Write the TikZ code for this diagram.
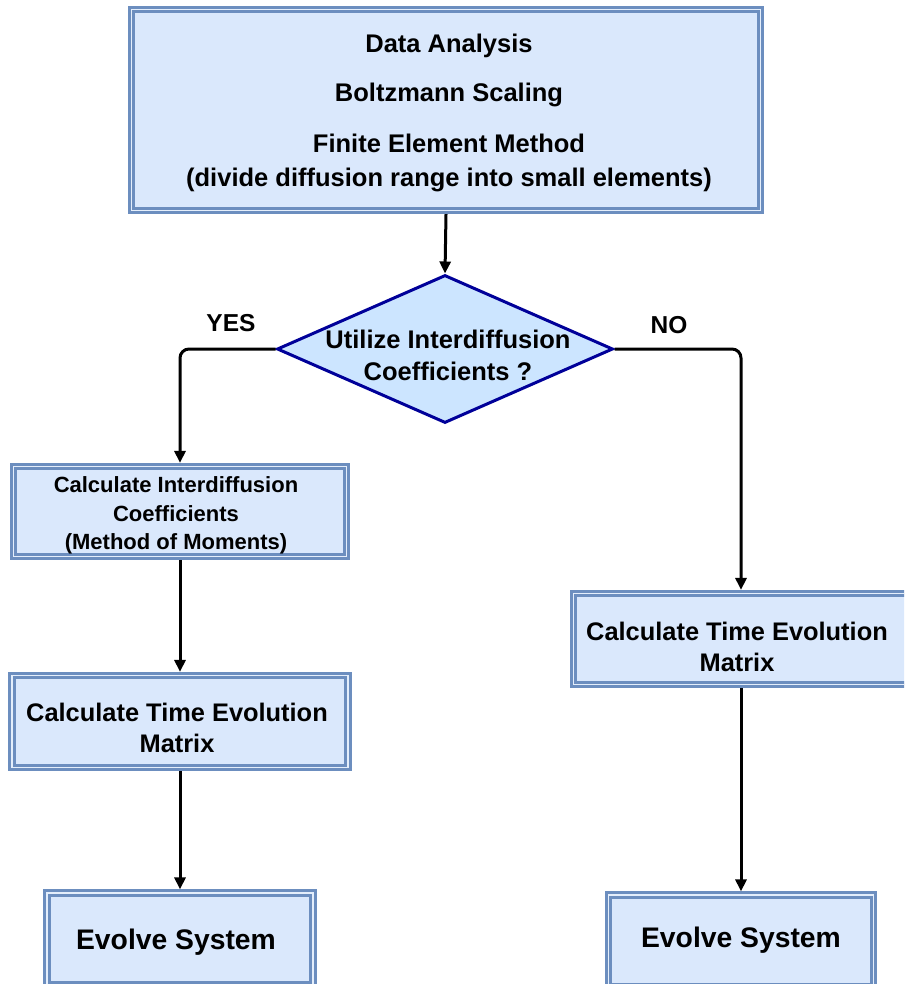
\documentclass[tikz,border=0pt]{standalone}
\usepackage{fontspec}
\setmainfont{Liberation Sans}
\usetikzlibrary{shapes.geometric,arrows.meta}
\definecolor{bord}{HTML}{6C8EBF}
\definecolor{boxfill}{HTML}{DAE8FC}
\definecolor{gapc}{HTML}{E4EEFB}
\definecolor{dfill}{HTML}{CCE5FF}
\definecolor{dbord}{HTML}{000099}
\newcommand\lowtxt[3][0pt]{\kern#1\kern#1\raisebox{-#2}[\height][\depth]{\begin{tabular}{@{}c@{}}#3\end{tabular}}}
\tikzset{
  dbox/.style={draw=bord, double=gapc, line width=3pt, double distance=1.2pt,
    fill=boxfill, align=center, inner sep=0pt, outer sep=3.6pt, font=\bfseries},
  dia/.style={diamond, draw=dbord, line width=3pt, fill=dfill, inner sep=0pt},
  arr/.style={line width=3pt, -{Triangle[width=11pt,length=12pt]}},
  lab/.style={font=\fontsize{24.5}{28}\selectfont\bfseries}
}
\begin{document}
\begin{tikzpicture}[x=1pt,y=-1pt]
\useasboundingbox (0,0) rectangle (904,984);
\fill[white] (0,0) rectangle (904,984);
\clip (0,0) rectangle (904,984);
\node[dbox, minimum width=629pt, minimum height=201pt,
  font=\fontsize{25.5}{34}\selectfont\bfseries] (top) at (446,110)
  {\lowtxt[3pt]{3pt}{Data Analysis\\[15pt]Boltzmann Scaling\\[17pt]Finite Element Method\\(divide diffusion range into small elements)}};
\node[dia, minimum width=336pt, minimum height=148pt,
  label={[font=\fontsize{25.5}{32}\selectfont\bfseries]center:\lowtxt[3pt]{9.5pt}{Utilize Interdiffusion\\Coefficients ?}}] (d) at (445,349) {};
\node[dbox, minimum width=333pt, minimum height=90pt,
  font=\fontsize{22}{28.5}\selectfont\bfseries] (b1) at (180,511.5)
  {\lowtxt[-4pt]{4pt}{Calculate Interdiffusion\\Coefficients\\(Method of Moments)}};
\node[dbox, minimum width=336pt, minimum height=92pt,
  font=\fontsize{25.4}{31}\selectfont\bfseries] (b2) at (180,721.5)
  {\lowtxt[-3pt]{9pt}{Calculate Time Evolution\\Matrix}};
\node[dbox, minimum width=266pt, minimum height=92pt,
  font=\fontsize{28.3}{31}\selectfont\bfseries] (b3) at (180,939)
  {\lowtxt[-4pt]{4pt}{Evolve System}};
\node[dbox, minimum width=335pt, minimum height=91pt,
  font=\fontsize{25.4}{31}\selectfont\bfseries] (b4) at (741,639)
  {\lowtxt[-4pt]{10.5pt}{Calculate Time Evolution\\Matrix}};
\node[dbox, minimum width=265pt, minimum height=92pt,
  font=\fontsize{28.3}{31}\selectfont\bfseries] (b5) at (741,941)
  {\lowtxt{0pt}{Evolve System}};
\node[lab] (yes) at (231,323) {YES};
\node[lab] (no) at (669,325) {NO};
\draw[arr] (top.south) -- (d.north);
\draw[arr, rounded corners=9pt] (d.west) -| (b1.north);
\draw[arr, rounded corners=9pt] (d.east) -| (b4.north);
\draw[arr] (b1.south) -- (b2.north);
\draw[arr] (b2.south) -- (b3.north);
\draw[arr] (b4.south) -- (b5.north);
\end{tikzpicture}
\end{document}
